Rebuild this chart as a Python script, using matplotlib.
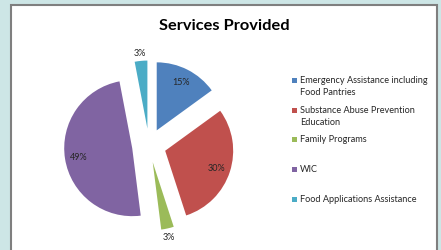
import matplotlib
matplotlib.use("Agg")
import matplotlib.pyplot as plt
from matplotlib.patches import Rectangle
import numpy as np

plt.rcParams['font.family'] = ['Lato', 'DejaVu Sans']

categories = ["Emergency Assistance including\nFood Pantries",
              "Substance Abuse Prevention\nEducation",
              "Family Programs",
              "WIC",
              "Food Applications Assistance"]
values = [15, 30, 3, 49, 3]
colors = ["#4F81BD", "#C0504D", "#9BBB59", "#8064A2", "#4BACC6"]
title = "Services Provided"

W, H = 441, 251
fig = plt.figure(figsize=(W / 100, H / 100), dpi=100)
fig.patch.set_facecolor("#CDE6E6")

def fx(px):
    return px / W

def fy(py):
    return 1 - py / H

# white chart area with grey border
fig.patches.append(Rectangle((fx(11), fy(260)), fx(437) - fx(11), fy(6) - fy(260),
                             transform=fig.transFigure, facecolor="white",
                             edgecolor="#7F7F7F", linewidth=1.5, zorder=-10))

fig.text(fx(224), fy(26), title, ha="center", va="center",
         fontsize=11.8, fontweight="bold", color="black")

# pie axes: radius 1 = 68 px, centre at (149,146)
R = 68
cx, cy = 149, 146.5
half = 1.5 * R
ax = fig.add_axes([fx(cx - half), fy(cy + half), 2 * half / W, 2 * half / H])
ax.set_zorder(5)
ax.patch.set_visible(False)
explode = [0.25] * len(values)
wedges, texts, autotexts = ax.pie(values, colors=colors, startangle=90,
                                  counterclock=False, explode=explode,
                                  autopct="%d%%", pctdistance=0.8,
                                  wedgeprops=dict(linewidth=0),
                                  textprops=dict(fontsize=6.5, color="#262626"))
ax.set_xlim(-1.5, 1.5)
ax.set_ylim(-1.5, 1.5)
ax.set_aspect("equal")
ax.axis("off")

# move small-slice labels outside
for w, t, v in zip(wedges, autotexts, values):
    if v < 5:
        ang = np.deg2rad((w.theta1 + w.theta2) / 2)
        d = 1.37
        t.set_position((d * np.cos(ang), d * np.sin(ang)))
    t.set_text(f"{v}%")

# legend
ys = [81, 111, 140, 170, 200]
for lab, col, y in zip(categories, colors, ys):
    fig.patches.append(Rectangle((fx(292), fy(y + 3)), fx(5), 5 / H,
                                 transform=fig.transFigure, facecolor=col,
                                 edgecolor="none"))
    fig.text(fx(300), fy(y - 5), lab, ha="left", va="top", fontsize=6.6,
             color="#262626", linespacing=1.4)

fig.savefig("out.png", dpi=100, facecolor=fig.get_facecolor())
